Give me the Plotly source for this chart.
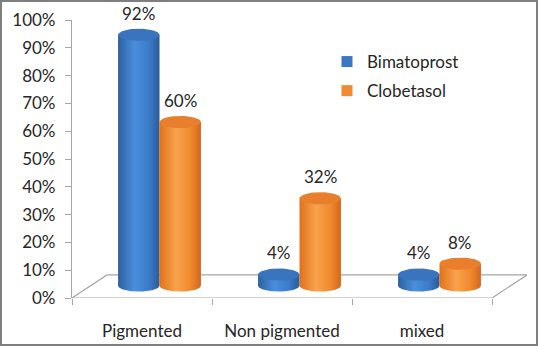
import numpy as np
import plotly.graph_objects as go

categories = ["Pigmented", "Non pigmented", "mixed"]
series_names = ["Bimatoprost", "Clobetasol"]
bimatoprost = [92, 4, 4]
clobetasol = [60, 32, 8]
y_ticks = [0, 10, 20, 30, 40, 50, 60, 70, 80, 90, 100]

W, H = 538, 346
ML, MR, MT, MB = 72, 11, 20, 48
PW, PH = W - ML - MR, H - MT - MB
X_RANGE = [-0.5, 2.75]
DEPTH_X = 0.25
DEPTH_Y = 8.3
BASE_Y = 4.5
SCALE = 0.98
HALF_W = 0.148
RY = 2.2
FONT = "Lato"
FS = 17

blue_scale = [[0, "#2c619f"], [0.4, "#4a8fdc"], [0.75, "#3b7bc8"], [1, "#2a5b99"]]
orange_scale = [[0, "#e0721c"], [0.4, "#f9a24c"], [0.75, "#ef8a2e"], [1, "#d4661a"]]
cap_colors = ["#3a74bf", "#e97f2c"]
legend_colors = ["#3a78c6", "#f28a2e"]

fig = go.Figure()

n = len(categories)
fx = [-0.5, n - 0.5, n - 0.5 + DEPTH_X, -0.5 + DEPTH_X, -0.5]
fy = [0, 0, DEPTH_Y, DEPTH_Y, 0]
fig.add_trace(go.Scatter(x=fx, y=fy, mode="lines", line=dict(color="#a6a6a6", width=1.2),
                         fill="toself", fillcolor="white", hoverinfo="skip", showlegend=False))


def cylinder(cx, value, cscale, capcolor):
    yb = BASE_Y
    yt = BASE_Y + value * SCALE
    t = np.linspace(np.pi, 2 * np.pi, 40)
    bx = cx + HALF_W * np.cos(t)
    by = yb + RY * np.sin(t)
    xs = list(bx) + [cx + HALF_W, cx - HALF_W, cx - HALF_W]
    ys = list(by) + [yt, yt, yb]
    fig.add_trace(go.Scatter(x=xs, y=ys, mode="lines", line=dict(width=0), fill="toself",
                             fillgradient=dict(type="horizontal", colorscale=cscale),
                             hoverinfo="skip", showlegend=False))
    t2 = np.linspace(0, 2 * np.pi, 60)
    fig.add_trace(go.Scatter(x=cx + HALF_W * np.cos(t2), y=yt + RY * np.sin(t2), mode="lines",
                             line=dict(width=0), fill="toself", fillcolor=capcolor,
                             hoverinfo="skip", showlegend=False))
    fig.add_annotation(x=cx, y=yt + RY, text=f"{value}%", showarrow=False, yanchor="bottom",
                       yshift=3, font=dict(family=FONT, size=FS, color="#262626"))


for i in range(n):
    cylinder(i + DEPTH_X / 2 - HALF_W, bimatoprost[i], blue_scale, cap_colors[0])
    cylinder(i + DEPTH_X / 2 + HALF_W, clobetasol[i], orange_scale, cap_colors[1])

for name, col in zip(series_names, legend_colors):
    fig.add_trace(go.Scatter(x=[None], y=[None], mode="markers", name=name, legendgroup=name,
                             marker=dict(symbol="square", size=11, color=col)))

fig.add_shape(type="rect", xref="paper", yref="paper",
              x0=(1 - ML) / PW, x1=(W - 1 - ML) / PW,
              y0=(PH + MT - (H - 1)) / PH, y1=(PH + MT - 1) / PH,
              line=dict(color="#7f7f7f", width=2))

fig.update_layout(
    width=W, height=H, margin=dict(l=ML, r=MR, t=MT, b=MB, autoexpand=False),
    paper_bgcolor="white", plot_bgcolor="white",
    font=dict(family=FONT, size=FS, color="#262626"),
    showlegend=True,
    legend=dict(x=(327 - ML) / PW, y=(PH + MT - 44) / PH, xanchor="left", yanchor="top",
                tracegroupgap=4, bgcolor="rgba(0,0,0,0)", font=dict(family=FONT, size=FS)),
    xaxis=dict(range=X_RANGE, tickvals=list(range(n)), ticktext=categories, ticks="",
               showline=False, showgrid=False, zeroline=False, ticklabelstandoff=21,
               automargin=False,
               minor=dict(tickvals=[i - 0.5 for i in range(n + 1)], ticks="outside", ticklen=6,
                          tickcolor="#a6a6a6", showgrid=False),
               fixedrange=True),
    yaxis=dict(range=[0, 100], tickvals=y_ticks, ticktext=[f"{v}%" for v in y_ticks],
               ticks="outside", ticklen=6, tickcolor="#a6a6a6", showline=True,
               linecolor="#a6a6a6", linewidth=1.2, showgrid=False, zeroline=False,
               ticklabelstandoff=6, automargin=False, fixedrange=True),
)

fig.write_html("out.html", config={"displayModeBar": False},
               post_script="document.body.style.margin='0';")
